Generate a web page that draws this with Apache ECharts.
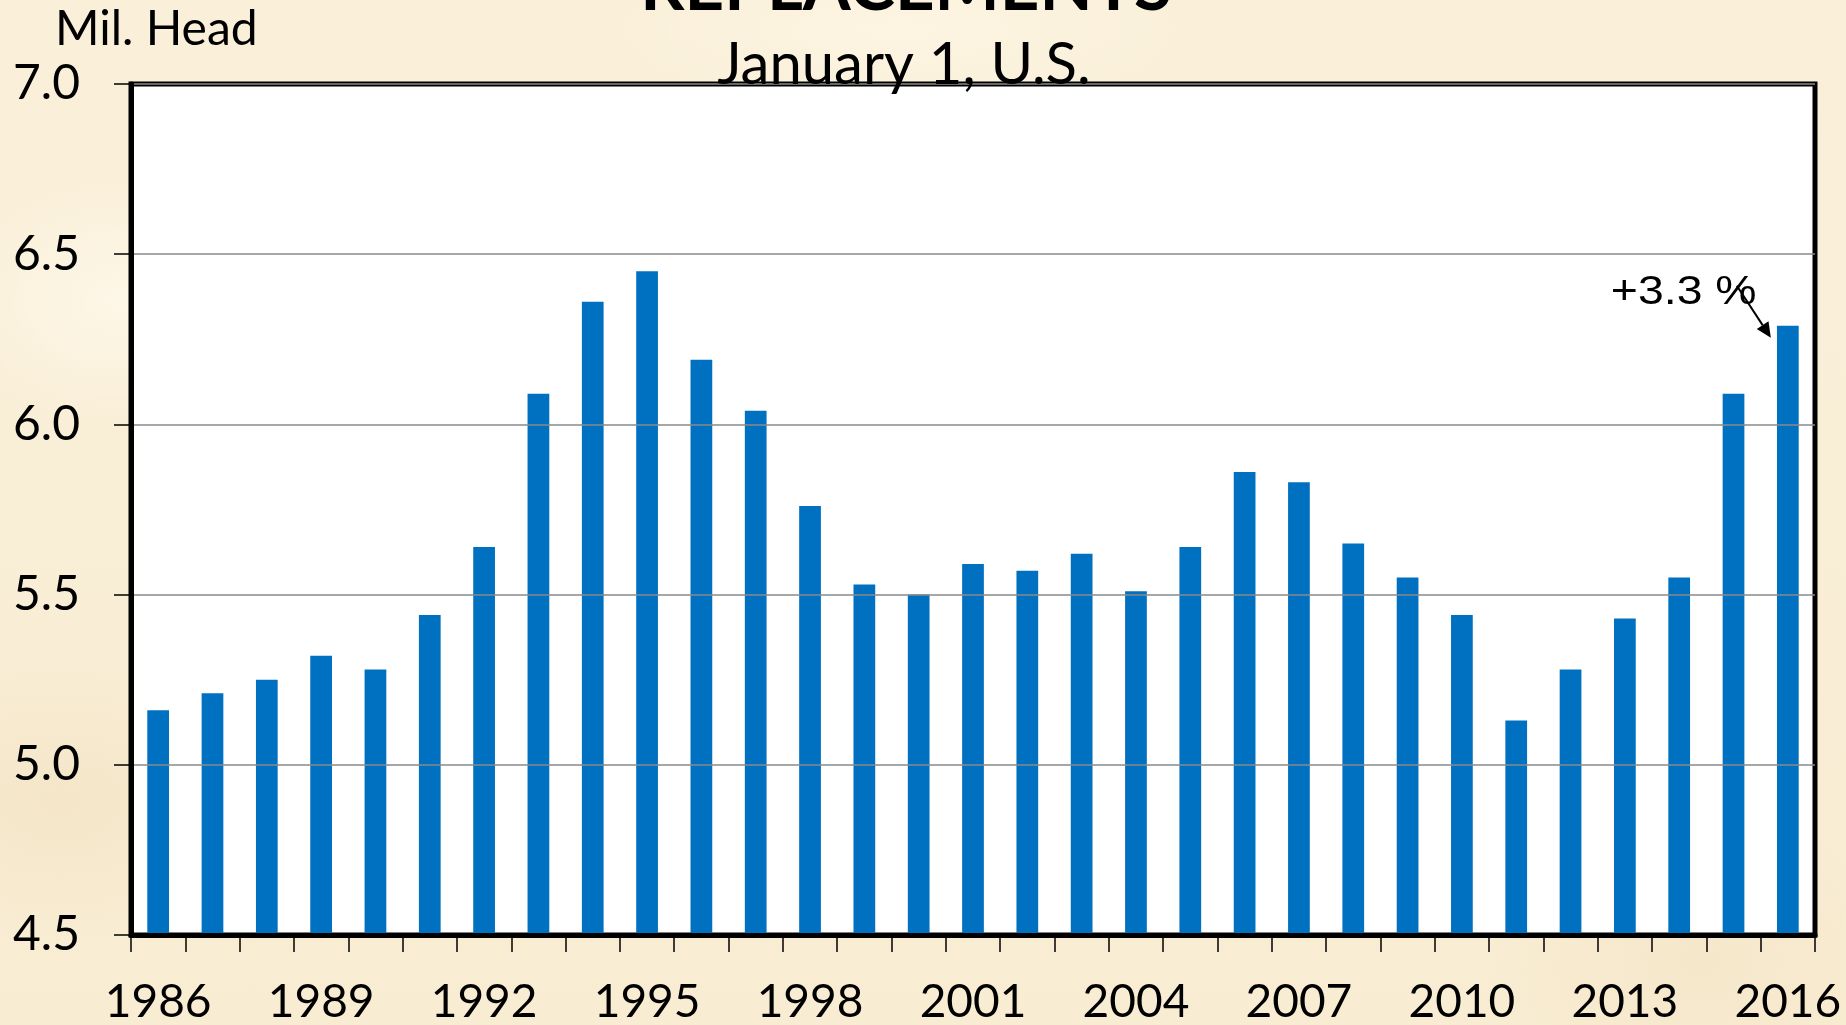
<!DOCTYPE html>
<html>
<head>
<meta charset="utf-8">
<script src="https://cdn.jsdelivr.net/npm/echarts@6/dist/echarts.min.js"></script>
<style>
html, body { margin: 0; padding: 0; width: 1846px; height: 1025px; overflow: hidden; }
body {
  background-color: #f9eed6;
  background-image:
    radial-gradient(ellipse 260px 180px at 120px 300px, rgba(255,250,238,0.7), rgba(255,250,238,0) 70%),
    radial-gradient(ellipse 300px 200px at 60px 800px, rgba(240,222,188,0.5), rgba(240,222,188,0) 70%),
    radial-gradient(ellipse 400px 120px at 900px 30px, rgba(255,248,232,0.6), rgba(255,248,232,0) 70%),
    radial-gradient(ellipse 300px 220px at 1700px 960px, rgba(242,226,194,0.5), rgba(242,226,194,0) 70%),
    linear-gradient(180deg, #faf0da 0%, #f8ecd2 100%);
}
#chart { width: 1846px; height: 1025px; }
</style>
</head>
<body>
<div id="chart"></div>
<script>
// ---- data ----
const years = ['1986','1987','1988','1989','1990','1991','1992','1993','1994','1995',
               '1996','1997','1998','1999','2000','2001','2002','2003','2004','2005',
               '2006','2007','2008','2009','2010','2011','2012','2013','2014','2015','2016'];
const replacements = [5.16, 5.21, 5.25, 5.32, 5.28, 5.44, 5.64, 6.09, 6.36, 6.45,
                      6.19, 6.04, 5.76, 5.53, 5.50, 5.59, 5.57, 5.62, 5.51, 5.64,
                      5.86, 5.83, 5.65, 5.55, 5.44, 5.13, 5.28, 5.43, 5.55, 6.09, 6.29];
const yMin = 4.5, yMax = 7.0, yStep = 0.5;
const titleText = 'REPLACEMENTS';
const subtitleText = 'January 1, U.S.';
const unitText = 'Mil. Head';
const noteText = '+3.3 %';

(function () {
  const chart = echarts.init(document.getElementById('chart'), null, { renderer: 'canvas' });

  const option = {
    backgroundColor: 'transparent',
    animation: false,
    grid: {
      left: 131, right: 31, top: 84, bottom: 90,
      containLabel: false,
      outerBoundsMode: 'none',
      show: true, backgroundColor: '#ffffff',
      borderColor: '#000000', borderWidth: 5
    },
    xAxis: {
      type: 'category',
      data: years,
      boundaryGap: true,
      z: 10,
      axisLine: { show: true, lineStyle: { color: '#000', width: 5 } },
      axisTick: { show: true, interval: 0, length: 17, lineStyle: { color: '#000', width: 1.5 } },
      axisLabel: {
        interval: 2, margin: 44, color: '#000',
        fontFamily: 'Lato', fontSize: 46
      },
      splitLine: { show: false }
    },
    yAxis: {
      type: 'value',
      min: yMin, max: yMax, interval: yStep,
      z: 10,
      axisLine: { show: true, lineStyle: { color: '#000', width: 5 } },
      axisTick: { show: true, length: 17, lineStyle: { color: '#000', width: 1.5 } },
      axisLabel: {
        margin: 51, color: '#000', fontFamily: 'Lato', fontSize: 48,
        formatter: v => v.toFixed(1)
      },
      splitLine: { show: true, lineStyle: { color: '#8a8a8a', width: 1.5 } }
    },
    series: [{
      type: 'bar',
      data: replacements,
      barWidth: '40%',
      itemStyle: { color: '#0070c0' }
    }]
  };
  chart.setOption(option);

  // annotation anchored on the last bar's top
  const last = replacements.length - 1;
  const p = chart.convertToPixel({ xAxisIndex: 0, yAxisIndex: 0 }, [last, replacements[last]]);
  const cx = p[0], barTop = p[1];
  const sx = cx - 51, sy = barTop - 40;
  const tx = cx - 17, ty = barTop + 12;
  const dx = tx - sx, dy = ty - sy, len = Math.hypot(dx, dy);
  const ux = dx / len, uy = dy / len;
  const hl = 15, hw = 7;
  const bx = tx - ux * hl, by = ty - uy * hl;

  chart.setOption({
    graphic: [
      { type: 'text', z: 20,
        style: { text: titleText, x: 906, y: -12, align: 'center', verticalAlign: 'middle',
                 font: 'bold 69px Lato', fill: '#000' } },
      { type: 'text', z: 20,
        style: { text: subtitleText, x: 904, y: 65, align: 'center', verticalAlign: 'middle',
                 font: '58px Lato', fill: '#000' } },
      { type: 'text', z: 20,
        style: { text: unitText, x: 55, y: 30, align: 'left', verticalAlign: 'middle',
                 font: '48px Lato', fill: '#000' } },
      { type: 'text', z: 20, x: cx - 177, y: barTop - 33, scaleX: 1.16,
        style: { text: noteText, x: 0, y: 0, align: 'left', verticalAlign: 'middle',
                 font: '40px "Liberation Sans", Arial', fill: '#000' } },
      { type: 'line', z: 21,
        shape: { x1: sx, y1: sy, x2: bx, y2: by },
        style: { stroke: '#000', lineWidth: 2 } },
      { type: 'polygon', z: 21,
        shape: { points: [[tx, ty], [bx - uy * hw, by + ux * hw], [bx + uy * hw, by - ux * hw]] },
        style: { fill: '#000' } }
    ]
  });
})();
</script>
</body>
</html>
